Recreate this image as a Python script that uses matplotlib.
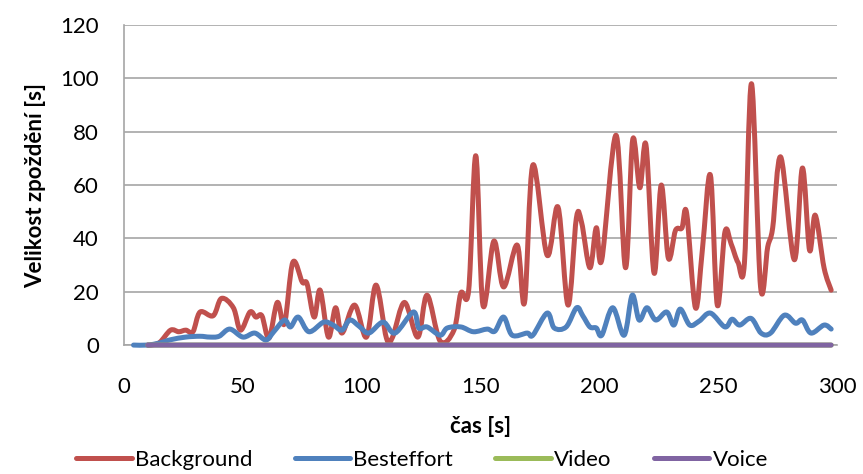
import matplotlib
matplotlib.use("Agg")
import matplotlib.pyplot as plt
from matplotlib.path import Path
from matplotlib.patches import PathPatch
from matplotlib.lines import Line2D

plt.rcParams['font.family'] = ['Lato', 'DejaVu Sans']

# Background (cas [s], zpozdeni [s])
bg_t = [10, 11.25, 15, 19.6, 23, 26, 29, 32, 37.5, 41, 46, 49, 53, 55.5, 58, 61, 64.5, 67.5,
        71, 75, 77, 80, 82.5, 86, 89, 91.7, 97, 102, 106, 110.4, 113, 118, 123.6, 127.5,
        133, 138.8, 141.7, 145, 148, 151, 155.6, 159.7, 165.4, 168.5, 172, 178, 182.6,
        186.8, 190.3, 192.5, 196, 198.7, 201, 207, 211, 214, 217, 219.6, 223, 226, 229,
        232, 234.7, 236.7, 240.4, 243.3, 246.7, 249.6, 252.8, 255.4, 258.3, 261, 264,
        267.8, 270.8, 272.9, 276.3, 282, 285.4, 288.4, 290.8, 294.5, 297.5]
bg_v = [0, 0, 1, 5.6, 5, 5.6, 5, 12.4, 11, 17.5, 14, 5.6, 12.4, 10.5, 11, 2.6, 16, 8,
        31, 23.6, 23, 10.5, 20.6, 3, 14, 4.5, 15, 3, 22.5, 2.6, 3, 16, 3, 18.7,
        1.5, 5.6, 19.5, 20.6, 71, 15, 39, 21.8, 37.5, 16, 67.5, 33.7, 51.7,
        15, 47.6, 46, 29, 44, 32, 78.7, 29, 77, 59, 75, 27, 60, 32.6,
        43, 43.9, 49.5, 14, 35.6, 63.7, 15, 42.4, 38, 31, 30.6, 98,
        21.8, 36.8, 44, 70.5, 32, 66.4, 35.6, 48.7, 29, 20.6]

# Besteffort
be_t = [4, 10, 15, 19.6, 26, 32, 36, 40, 44.5, 50, 55, 59.7, 63, 67.5, 70, 73.3, 77.8, 84,
        88, 91.7, 95, 99, 103, 109, 114, 121.7, 124, 127.5, 133, 136, 141.7, 147, 152.8,
        156, 159.7, 163.3, 169.6, 172, 178, 181, 186, 190.4, 193, 196, 198.7, 201, 205.6,
        210.4, 213.8, 216.7, 220, 223.7, 228.3, 231.3, 234, 238, 242, 246.7, 252.8, 255.8,
        259, 263.8, 268, 272, 277.8, 282.5, 285.4, 289, 294.5, 297.5]
be_v = [0, 0, 0.8, 2, 3, 3.3, 3, 3.3, 6, 3, 4.5, 1.9, 5, 9.4, 6.8, 10.5, 5, 8.6,
        7.5, 5.6, 9.4, 7, 4.5, 8.6, 4.5, 12.4, 6.4, 6.8, 3.7, 6.4, 6.8, 5, 6,
        5.2, 10.5, 3.7, 4.5, 3.7, 12, 6.4, 6.8, 14, 11, 6.8, 6.4, 3.7, 14,
        3.7, 18.7, 9.4, 14, 9.4, 12.4, 7.5, 13.5, 7.5, 9, 12, 6.8, 9.7,
        7.5, 10, 4.5, 4.5, 11.2, 8.2, 9.4, 4.5, 7.5, 6]

# Video, Voice
vi_t = [10, 297.5]
vi_v = [0, 0]
vo_t = [10, 297.5]
vo_v = [0, 0]

names = ['Background', 'Besteffort', 'Video', 'Voice']
colors = ['#C0504D', '#4F81BD', '#9BBB59', '#8064A2']


def smooth_path(x, y, k=1 / 6):
    # Excel-like smoothed line: Catmull-Rom segments as cubic Bezier curves
    verts = [(x[0], y[0])]
    codes = [Path.MOVETO]
    n = len(x)
    for i in range(n - 1):
        x0, y0 = (x[i - 1], y[i - 1]) if i > 0 else (x[i], y[i])
        x3, y3 = (x[i + 2], y[i + 2]) if i + 2 < n else (x[i + 1], y[i + 1])
        c1 = (x[i] + (x[i + 1] - x0) * k, y[i] + (y[i + 1] - y0) * k)
        c2 = (x[i + 1] - (x3 - x[i]) * k, y[i + 1] - (y3 - y[i]) * k)
        verts += [c1, c2, (x[i + 1], y[i + 1])]
        codes += [Path.CURVE4] * 3
    return Path(verts, codes)


fig = plt.figure(figsize=(8.63, 4.74), dpi=100)
ax = fig.add_axes([0.1437, 0.272, 0.8263, 0.675])

series = [(bg_t, bg_v), (be_t, be_v), (vi_t, vi_v), (vo_t, vo_v)]
for (x, y), c in zip(series, colors):
    ax.add_patch(PathPatch(smooth_path(x, y), fill=False, edgecolor=c, lw=3.6,
                           joinstyle='round', capstyle='round', clip_on=False, zorder=3))

ax.set_xlim(0, 300)
ax.set_ylim(0, 120)
ax.set_xticks(range(0, 301, 50))
ax.set_yticks(range(0, 121, 20))
ax.grid(axis='y', color='#a6a6a6', lw=1.2)
ax.set_axisbelow(True)
for s in ['top', 'right']:
    ax.spines[s].set_visible(False)
for s in ['left', 'bottom']:
    ax.spines[s].set_color('#a6a6a6')
    ax.spines[s].set_linewidth(1.2)
ax.tick_params(length=0, labelsize=16)
ax.tick_params(axis='y', pad=18)
ax.tick_params(axis='x', pad=23)

ax.set_xlabel('čas [s]', fontsize=16, fontweight='bold', labelpad=14)
ax.set_ylabel('Velikost zpoždění [s]', fontsize=16, fontweight='bold', labelpad=10)

handles = [Line2D([], [], color=c, lw=3.6, solid_capstyle='round') for c in colors]
ax.legend(handles, names, loc='upper center', bbox_to_anchor=(0.418, -0.30), ncol=4,
          frameon=False, fontsize=16, handlelength=2.5, handletextpad=0.15,
          columnspacing=1.9, borderaxespad=0)

fig.savefig('out.png', dpi=100)
